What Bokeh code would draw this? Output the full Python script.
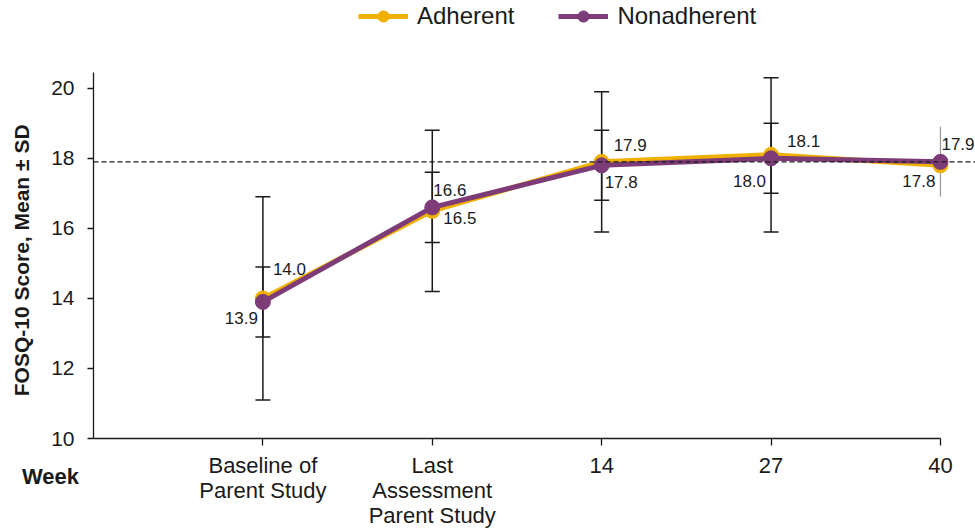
from bokeh.plotting import figure
from bokeh.models import (Range1d, FixedTicker, Span, Whisker, TeeHead, Legend,
                          LegendItem, ColumnDataSource, Div)
from bokeh.layouts import column
from bokeh.core.properties import value
from bokeh.embed import file_html
from bokeh.resources import INLINE

# ---------------- data ----------------
categories = ["Baseline of\nParent Study", "Last\nAssessment\nParent Study", "14", "27", "40"]
adherent_mean = [14.0, 16.5, 17.9, 18.1, 17.8]
adherent_sd = [2.9, 2.3, 2.0, 2.2, None]
nonadherent_mean = [13.9, 16.6, 17.8, 18.0, 17.9]
nonadherent_sd = [1.0, 1.0, 1.0, 1.0, 1.0]
reference_value = 17.9
y_ticks = [10, 12, 14, 16, 18, 20]

# ---------------- style / layout ----------------
GOLD = "#F0B000"
PURPLE = "#7D3C78"
INK = "#1a1a1a"
FONT = "Liberation Sans"
NBSP = "\u00a0"

xs = list(range(1, len(categories) + 1))

p = figure(width=975, height=530, output_backend="svg", toolbar_location=None,
           x_range=Range1d(0, 5.207), y_range=Range1d(10, 22.507),
           min_border_left=93, min_border_right=0, min_border_top=0,
           min_border_bottom=91, outline_line_color=None,
           background_fill_color="white", border_fill_color="white")
p.grid.visible = False

# axes
xa = p.xaxis[0]
xa.ticker = FixedTicker(ticks=xs)
xa.major_label_overrides = {x: c for x, c in zip(xs, categories)}
xa.bounds = (0, len(categories))
xa.minor_tick_line_color = None
xa.major_tick_in = 0
xa.major_tick_out = 7
xa.major_label_standoff = 7
xa.major_label_text_font = FONT
xa.major_label_text_font_size = "22px"
xa.major_label_text_line_height = 1.0
xa.major_label_text_color = INK
xa.axis_line_color = INK
xa.axis_line_width = 1.3
xa.major_tick_line_color = INK
xa.major_tick_line_width = 1.3

ya = p.yaxis[0]
ya.ticker = FixedTicker(ticks=y_ticks)
ya.bounds = (10, 20.456)
ya.minor_tick_line_color = None
ya.major_tick_in = 0
ya.major_tick_out = 6
ya.major_label_standoff = 13
ya.major_label_text_font = FONT
ya.major_label_text_font_size = "21px"
ya.major_label_text_color = INK
ya.axis_line_color = INK
ya.axis_line_width = 1.3
ya.major_tick_line_color = INK
ya.major_tick_line_width = 1.3
# trailing no-break spaces move the centred label down next to the drawn axis line
ya.axis_label = "FOSQ-10 Score, Mean \u00b1 SD" + NBSP * 14
ya.axis_label_text_font = FONT
ya.axis_label_text_font_style = "bold"
ya.axis_label_text_font_size = "21px"
ya.axis_label_text_color = INK
ya.axis_label_standoff = 15

# reference dashed line
p.add_layout(Span(location=reference_value, dimension="width", line_color=INK,
                  line_width=1.3, line_dash="5 3"))

# error bars (black with caps); the last nonadherent SD is a thin grey bar
capped = [i for i in range(len(xs)) if adherent_sd[i] is not None]
thin = [i for i in range(len(xs)) if adherent_sd[i] is None]

for means, sds in ((adherent_mean, adherent_sd), (nonadherent_mean, nonadherent_sd)):
    src = ColumnDataSource(dict(x=[xs[i] for i in capped],
                                lo=[means[i] - sds[i] for i in capped],
                                hi=[means[i] + sds[i] for i in capped]))
    p.add_layout(Whisker(source=src, base="x", lower="lo", upper="hi", dimension="height",
                         line_color=INK, line_width=1.5, level="underlay",
                         upper_head=TeeHead(size=15, line_color=INK, line_width=1.5),
                         lower_head=TeeHead(size=15, line_color=INK, line_width=1.5)))

p.segment(x0=[xs[i] for i in thin], x1=[xs[i] for i in thin],
          y0=[nonadherent_mean[i] - nonadherent_sd[i] for i in thin],
          y1=[nonadherent_mean[i] + nonadherent_sd[i] for i in thin],
          line_color="#999999", line_width=1.2, level="underlay")

# series
la = p.line(xs, adherent_mean, line_color=GOLD, line_width=5)
sa = p.scatter(xs, adherent_mean, size=15, fill_color=GOLD, line_color=GOLD)
ln = p.line(xs, nonadherent_mean, line_color=PURPLE, line_width=5)
sn = p.scatter(xs, nonadherent_mean, size=15, fill_color=PURPLE, line_color=PURPLE)

# value labels
a_align = ["left", "left", "left", "left", "right"]
a_dx = [10, 11, 12, 16, -5]
a_dy = [-29, 7, -17, -14, 16]
n_align = ["right", "left", "left", "right", "left"]
n_dx = [-5, 1, 3, -5, 1]
n_dy = [16, -17, 17, 23, -18]

for means, al, dx, dy in ((adherent_mean, a_align, a_dx, a_dy),
                          (nonadherent_mean, n_align, n_dx, n_dy)):
    src = ColumnDataSource(dict(x=xs, y=means, t=[f"{v:.1f}" for v in means],
                                al=al, dx=dx, dy=dy))
    p.text(x="x", y="y", text="t", source=src, text_align="al", x_offset="dx",
           y_offset="dy", text_baseline="middle", text_font=value(FONT),
           text_font_size="17px", text_color=INK)

legend = Legend(items=[LegendItem(label="Adherent", renderers=[la, sa]),
                       LegendItem(label="Nonadherent", renderers=[ln, sn])],
                orientation="horizontal", location=(265, 408),
                glyph_width=50, glyph_height=28, label_height=28,
                label_standoff=9, spacing=44, padding=0, margin=0,
                border_line_color=None, background_fill_alpha=0,
                label_text_font=FONT, label_text_color=INK,
                label_text_baseline="middle", label_text_font_size="24px")
p.add_layout(legend)

# "Week" caption at the lower left, beside the category labels
week = Div(text="Week", margin=(-66, 0, 0, 22),
           styles={"font-family": FONT, "font-weight": "bold", "font-size": "22px",
                   "color": INK, "line-height": "26px", "position": "relative",
                   "z-index": "1"})

layout = column(p, week)
open("out.html", "w").write(file_html(layout, INLINE))
